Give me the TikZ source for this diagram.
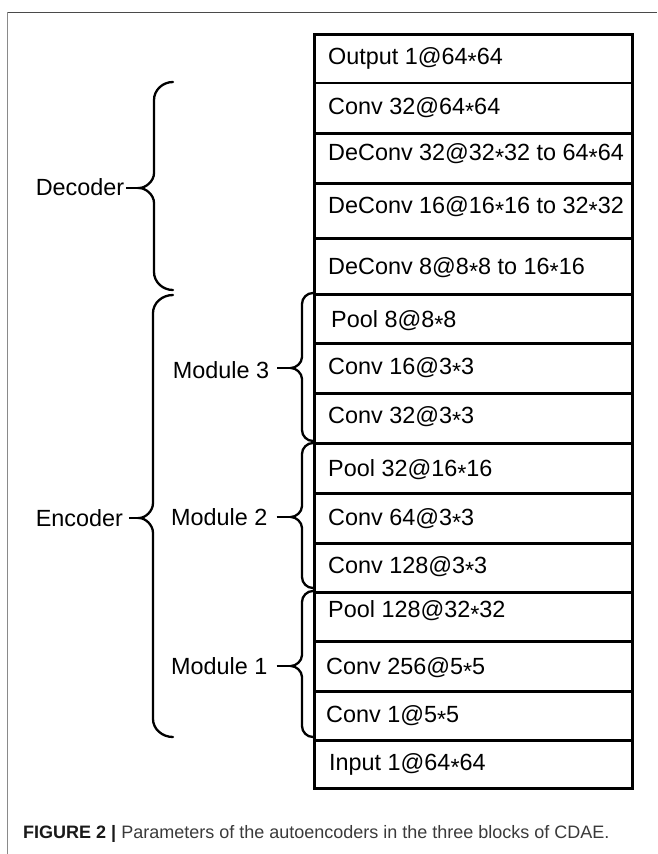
\documentclass[tikz,border=0pt]{standalone}
\usepackage{fontspec}
\setmainfont{Liberation Sans}
\newcommand\st{\raisebox{-0.22em}{*}}
\newcommand\drawbrace[9]{%
  % #1 tip name, #2 xend, #3 xv, #4 xtip, #5 ytop, #6 ytip, #7 ybot, #8 end radius, #9 tip radius
  \draw[bracestyle] (#2,#5)
    .. controls ({#3+0.45*(#2-#3)},#5) and (#3,{#5+0.45*#8}) .. (#3,{#5+#8})
    -- (#3,{#6-#9})
    .. controls (#3,{#6-0.45*#9}) and ({#4+0.45*(#3-#4)},#6) .. (#4,#6)
    .. controls ({#4+0.45*(#3-#4)},#6) and (#3,{#6+0.45*#9}) .. (#3,{#6+#9})
    -- (#3,{#7-#8})
    .. controls (#3,{#7-0.45*#8}) and ({#3+0.45*(#2-#3)},#7) .. (#2,#7);
  \coordinate (#1) at (#4,#6);}
\definecolor{frametop}{HTML}{4A4A4A}
\definecolor{frameleft}{HTML}{8A8A8A}
\definecolor{captxt}{HTML}{3A3A3A}
\tikzset{
  layer/.style={draw=black, line width=2.6pt, rectangle, inner sep=0pt, minimum width=318pt, anchor=north west},
  txt/.style={inner sep=0pt, anchor=base west, font=\fontsize{23.4}{28}\selectfont},
  side/.style={inner sep=0pt, anchor=base west, font=\fontsize{23.4}{28}\selectfont},
  bracestyle/.style={line width=2.3pt, line cap=round},
  conn/.style={line width=2.2pt},
}
\begin{document}
\begin{tikzpicture}[x=1pt,y=-1pt]
\useasboundingbox (0,0) rectangle (657,854);
% frame
\draw[frametop, line width=1.2pt] (7.3,12.3) -- (657,12.3);
\draw[frameleft, line width=1.2pt] (7.3,12.3) -- (7.3,854);
% layer boxes
\node[layer, minimum height=48.5pt] (b1) at (313,33) {};
\node[layer, minimum height=50.5pt] (b2) at (313,81.5) {};
\node[layer, minimum height=50pt] (b3) at (313,132) {};
\node[layer, minimum height=55pt] (b4) at (313,182) {};
\node[layer, minimum height=56pt] (b5) at (313,237) {};
\node[layer, minimum height=49pt] (b6) at (313,293) {};
\node[layer, minimum height=50pt] (b7) at (313,342) {};
\node[layer, minimum height=50pt] (b8) at (313,392) {};
\node[layer, minimum height=50pt] (b9) at (313,442) {};
\node[layer, minimum height=50pt] (b10) at (313,492) {};
\node[layer, minimum height=49pt] (b11) at (313,542) {};
\node[layer, minimum height=49pt] (b12) at (313,591) {};
\node[layer, minimum height=50pt] (b13) at (313,640) {};
\node[layer, minimum height=49pt] (b14) at (313,690) {};
\node[layer, minimum height=48pt] (b15) at (313,739) {};
% layer texts
\node[txt] (t1) at (328,64) {Output 1@64\st64};
\node[txt] (t2) at (328,114.5) {Conv 32@64\st64};
\node[txt] (t3) at (328,160.5) {DeConv 32@32\st32 to 64\st64};
\node[txt] (t4) at (328,213.5) {DeConv 16@16\st16 to 32\st32};
\node[txt] (t5) at (328,274.5) {DeConv 8@8\st8 to 16\st16};
\node[txt] (t6) at (331,327.5) {Pool 8@8\st8};
\node[txt] (t7) at (328,374.5) {Conv 16@3\st3};
\node[txt] (t8) at (328,423.5) {Conv 32@3\st3};
\node[txt] (t9) at (328,476.5) {Pool 32@16\st16};
\node[txt] (t10) at (328,525.5) {Conv 64@3\st3};
\node[txt] (t11) at (328,573.5) {Conv 128@3\st3};
\node[txt] (t12) at (328,617.5) {Pool 128@32\st32};
\node[txt] (t13) at (326,674.5) {Conv 256@5\st5};
\node[txt] (t14) at (326,722.5) {Conv 1@5\st5};
\node[txt] (t15) at (329,770.5) {Input 1@64\st64};
% side labels
\node[side] (dec) at (35.6,195.5) {Decoder};
\node[side] (enc) at (35.6,526.5) {Encoder};
\node[side] (m3) at (172.6,378.5) {Module 3};
\node[side] (m2) at (171,525.5) {Module 2};
\node[side] (m1) at (171,674.5) {Module 1};
% braces
\drawbrace{dectip}{173}{154}{139}{82}{188}{290}{18}{15}
\drawbrace{enctip}{173}{153}{139}{295}{518}{737}{18}{15}
\drawbrace{m3tip}{313}{302}{291}{293}{368}{441}{11}{11}
\drawbrace{m2tip}{313}{302}{291}{443}{517}{588}{11}{11}
\drawbrace{m1tip}{313}{302}{291}{591}{666}{737}{11}{11}
% connectors
\draw[conn, shorten <=2pt] (dec.east |- dectip) -- (dectip);
\draw[conn, shorten <=6pt] (enc.east |- enctip) -- (enctip);
\draw[conn, shorten <=8pt] (m3.east |- m3tip) -- (m3tip);
\draw[conn, shorten <=9pt] (m2.east |- m2tip) -- (m2tip);
\draw[conn, shorten <=9pt] (m1.east |- m1tip) -- (m1tip);
% caption
\node[inner sep=0pt, anchor=base west, font=\fontsize{18}{22}\selectfont] (cap) at (23,838)
  {\textcolor{black!90}{\textbf{FIGURE 2 |}} \textcolor{captxt}{Parameters of the autoencoders in the three blocks of CDAE.}};
\end{tikzpicture}
\end{document}
